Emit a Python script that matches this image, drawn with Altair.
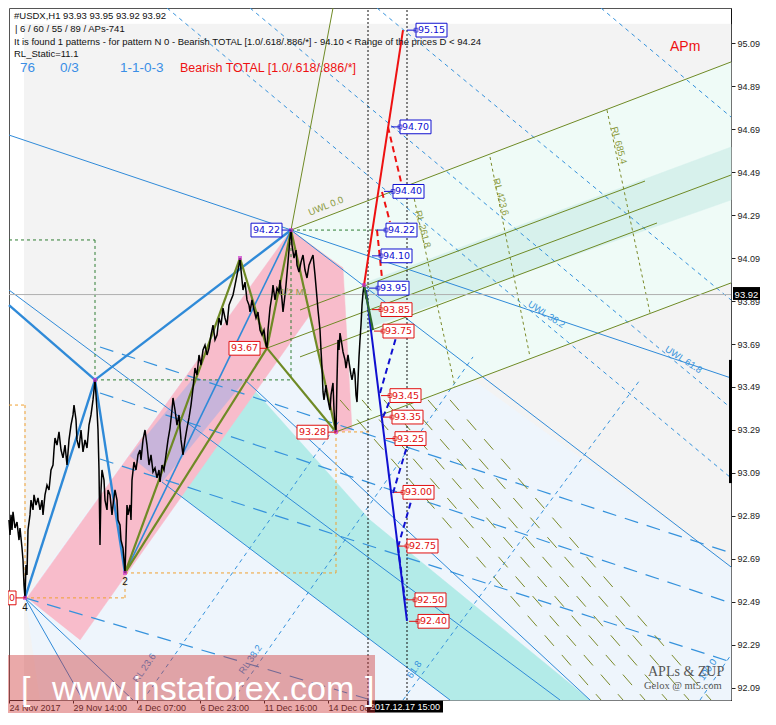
import altair as alt
import pandas as pd

FONT = "Liberation Sans"
BOXFONT = "DejaVu Sans"

X_DOMAIN = [0, 722]
Y_DOMAIN = [92.034, 95.253]

y_tick_values = [92.09, 92.29, 92.49, 92.69, 92.89, 93.09, 93.29, 93.49,
                 93.69, 93.89, 94.09, 94.29, 94.49, 94.69, 94.89, 95.09]
x_tick_values = [0, 64, 128, 191, 255, 319]
x_tick_labels = ["24 Nov 2017", "29 Nov 14:00", "4 Dec 07:00", "6 Dec 23:00",
                 "11 Dec 16:00", "14 Dec 08:00"]

# H1 price path (bar index, price)
price_bar = [0, 1, 2, 3, 4, 6, 8, 10, 11, 13, 14, 15, 16, 17, 18, 19, 21, 22, 24, 25,
             27, 29, 31, 33, 34, 36, 38, 40, 42, 44, 45, 46, 48, 50, 52, 54, 56, 58, 60, 62,
             64, 65, 67, 68, 70, 72, 74, 76, 78, 80, 82, 84, 86, 87, 88, 89, 90, 91, 92, 93,
             95, 96, 98, 99, 101, 103, 104, 106, 108, 109, 111, 112, 114, 115, 116, 117, 118, 119, 121, 122,
             123, 125, 127, 129, 131, 132, 134, 136, 138, 140, 142, 144, 146, 148, 150, 151, 153, 155, 157, 159,
             161, 163, 164, 166, 168, 170, 172, 174, 176, 178, 180, 182, 184, 186, 188, 190, 192, 194, 196, 198,
             200, 202, 204, 206, 208, 210, 212, 214, 216, 218, 220, 222, 224, 226, 228, 230, 231, 232, 234, 236,
             238, 240, 241, 243, 245, 247, 249, 251, 253, 255, 257, 258, 259, 261, 263, 264, 266, 268, 270, 271,
             273, 274, 276, 277, 279, 280, 281, 282, 283, 285, 287, 288, 290, 292, 294, 296, 298, 300, 302, 304,
             306, 308, 309, 311, 312, 313, 314, 315, 317, 318, 320, 321, 322, 324, 325, 326, 327, 328, 329, 330,
             331, 333, 334, 336, 337, 339, 340, 342, 343, 345, 346, 347, 348, 349, 350, 351, 352, 353, 354, 355,
             356, 357, 358]
price_val = [92.871, 92.802, 92.895, 92.825, 92.909, 92.834, 92.862, 92.778, 92.834, 92.741,
             92.685, 92.569, 92.509, 92.662, 92.616, 92.825, 92.895, 92.964, 92.918, 92.988,
             92.941, 92.974, 92.918, 92.964, 92.895, 92.988, 93.034, 93.011, 93.104, 93.127,
             93.197, 93.253, 93.220, 93.281, 93.197, 93.160, 93.220, 93.127, 93.244, 93.313,
             93.360, 93.406, 93.337, 93.244, 93.206, 93.290, 93.188, 93.244, 93.206, 93.313,
             93.360, 93.430, 93.523, 93.453, 93.383, 93.290, 93.104, 92.755, 93.011, 93.104,
             93.057, 92.964, 92.918, 93.011, 92.988, 92.895, 92.941, 93.011, 92.964, 92.871,
             92.848, 92.778, 92.741, 92.685, 92.625, 92.778, 92.941, 92.895, 92.941, 92.871,
             93.057, 93.141, 93.104, 93.174, 93.197, 93.151, 93.244, 93.290, 93.220, 93.127,
             93.174, 93.095, 93.113, 93.067, 93.104, 93.048, 93.127, 93.104, 93.174, 93.244,
             93.299, 93.383, 93.439, 93.383, 93.313, 93.360, 93.244, 93.174, 93.244, 93.299,
             93.346, 93.406, 93.485, 93.578, 93.546, 93.639, 93.592, 93.662, 93.685, 93.639,
             93.671, 93.732, 93.778, 93.709, 93.732, 93.811, 93.778, 93.857, 93.811, 93.778,
             93.871, 93.895, 93.918, 93.964, 94.011, 94.057, 94.090, 94.034, 93.941, 93.978,
             93.895, 93.871, 93.839, 93.895, 93.848, 93.811, 93.839, 93.755, 93.732, 93.755,
             93.685, 93.671, 93.755, 93.857, 93.918, 93.964, 93.895, 93.950, 93.932, 93.988,
             93.895, 93.839, 93.918, 93.964, 94.071, 94.127, 94.183, 94.220, 94.150, 94.090,
             94.127, 94.057, 94.025, 94.071, 94.104, 94.034, 93.997, 94.057, 94.081, 94.104,
             94.011, 93.904, 93.848, 93.755, 93.662, 93.578, 93.467, 93.430, 93.499, 93.453,
             93.406, 93.383, 93.453, 93.509, 93.383, 93.313, 93.281, 93.523, 93.709, 93.662,
             93.741, 93.685, 93.653, 93.616, 93.578, 93.639, 93.606, 93.546, 93.523, 93.578,
             93.546, 93.453, 93.420, 93.523, 93.630, 93.709, 93.778, 93.871, 93.927, 93.960,
             93.941, 93.904, 93.895]

# filled regions (bar, price vertices)
gray_bars, gray_vals = [15, 722, 722, 15], [95.178, 95.178, 92.034, 92.034]
paleblue_bars = [16, 282, 327, 464, 722, 722, 31]
paleblue_vals = [92.509, 94.22, 93.281, 93.523, 92.653, 92.034, 92.034]
mint_bars, mint_vals = [282, 722, 722, 327], [94.22, 95.002, 93.974, 93.281]
band_bars, band_vals = [353, 722, 722, 353], [93.969, 94.606, 94.36, 93.755]
teal_bars, teal_vals = [153, 236, 361, 581, 441], [93.048, 93.523, 92.871, 92.034, 92.034]
pinkA_bars, pinkA_vals = [18, 282, 334, 71], [92.509, 94.22, 94.043, 92.313]
pinkB_bars, pinkB_vals = [282, 334, 343, 327], [94.21, 94.043, 93.29, 93.281]
purple_bars, purple_vals = [121, 183, 236, 153], [93.169, 93.523, 93.523, 93.048]

# line segments (bar1, price1, bar2, price2)
blue_thin = [(0, 94.662, 722, 93.532), (282, 94.22, 722, 92.653), (16, 92.509, 74, 92.034),
             (16, 92.509, 124, 92.034), (0, 93.941, 551, 92.034), (236, 93.523, 581, 92.034),
             (153, 93.048, 441, 92.034)]
blue_thick = [(0, 93.871, 86, 93.523), (86, 93.523, 282, 94.22), (86, 93.523, 16, 92.509),
              (86, 93.523, 116, 92.625)]
blue_mid = [(116, 92.625, 282, 94.22)]
olive_thick = [(116, 92.625, 231, 94.09), (116, 92.625, 258, 93.671), (231, 94.09, 258, 93.671),
               (258, 93.671, 282, 94.22), (282, 94.22, 327, 93.281), (258, 93.671, 327, 93.281)]
olive_thin = [(282, 94.22, 324, 95.253), (282, 94.22, 722, 95.002), (327, 93.281, 722, 93.974),
              (258, 93.671, 722, 94.476), (291, 93.848, 636, 94.448), (291, 93.63, 648, 94.253)]
olive_rl = [(404, 94.392, 446, 93.49), (481, 94.56, 521, 93.63), (598, 94.778, 641, 93.834)]
olive_fan = [(331, 93.43, 592, 92.034), (353, 93.43, 614, 92.034), (375, 93.43, 636, 92.034),
             (397, 93.43, 658, 92.034), (419, 93.43, 680, 92.034), (441, 93.43, 702, 92.034)]
green_dash = [(0, 94.174, 86, 94.174), (86, 94.174, 86, 93.523), (86, 93.523, 282, 93.523),
              (282, 94.22, 282, 93.523), (282, 94.22, 371, 94.22)]
orange_dash = [(0, 93.406, 16, 93.406), (16, 93.406, 16, 92.509), (16, 92.509, 116, 92.509),
               (116, 92.509, 116, 92.625), (116, 92.625, 327, 92.625), (327, 92.625, 327, 93.281),
               (327, 93.281, 363, 93.281)]
blue_dash_upper = [(158, 95.253, 722, 93.067), (241, 95.253, 722, 93.392),
                   (368, 95.253, 722, 93.895), (592, 95.253, 722, 94.746)]
blue_longdash = [(91, 93.676, 722, 92.718), (91, 93.462, 722, 92.485), (91, 93.155, 722, 92.211),
                 (16, 92.509, 362, 92.034)]
blue_dash_asc = [(134, 92.034, 331, 93.337), (224, 92.034, 464, 93.63),
                 (394, 92.034, 631, 93.523), (691, 92.034, 722, 92.244)]
red_solid = [(355, 93.964, 394, 95.15)]
red_dash = [(379, 94.70, 394, 94.406), (373, 94.397, 381, 94.257), (368, 94.22, 373, 93.997)]
blue_proj_solid = [(357, 93.941, 398, 92.402)]
green_proj = [(355, 93.964, 364, 93.755)]
blue_proj_dash = [(371, 93.462, 387, 93.72), (374, 93.35, 384, 93.462), (384, 92.997, 399, 93.23),
                  (389, 92.746, 403, 92.974), (389, 92.746, 396, 92.499)]
dotted_v = [(359, 92.034, 359, 95.253), (398, 92.034, 398, 95.253)]
last_price = 93.92

# price labels
blue_lab_vals = [95.15, 94.70, 94.40, 94.22, 94.10, 93.95]
blue_lab_bars = [407, 391, 384, 377, 372, 369]
red_lab_vals = [93.85, 93.75, 93.45, 93.35, 93.25, 93.00, 92.75, 92.50, 92.40]
red_lab_bars = [372, 374, 381, 383, 386, 394, 398, 406, 409]
left_lab_vals = [94.22, 93.67, 93.28]
left_lab_bars = [242, 220, 288]
left_lab_colors = ["#1010d0", "#e01010", "#e01010"]
left_lab_targets = [282, 258, 327]

pivot_bar = [16, 116, 86, 231, 282, 327, 355]
pivot_val = [92.509, 92.625, 93.523, 94.09, 94.22, 93.281, 93.964]

XS = alt.Scale(domain=X_DOMAIN, nice=False, zero=False)
YS = alt.Scale(domain=Y_DOMAIN, nice=False, zero=False)
expr = " : ".join(f"datum.value == {v} ? '{t}'" for v, t in zip(x_tick_values, x_tick_labels)) + " : ''"
X_AX = alt.Axis(values=x_tick_values, labelExpr=expr, title=None, grid=False, orient="bottom",
                labelAlign="left", labelFont=FONT, labelFontSize=9, labelColor="#222",
                tickSize=3, tickColor="#222", domainColor="#222", labelPadding=0,
                labelFlush=False, labelOverlap=False)
Y_AX = alt.Axis(values=y_tick_values, format=".2f", orient="right", title=None, grid=False,
                labelFont=FONT, labelFontSize=9, labelColor="#222", tickSize=4,
                tickColor="#222", domainColor="#111", labelPadding=2, labelOverlap=False)


def X(f="x"):
    return alt.X(f"{f}:Q", scale=XS, axis=X_AX)


def Y(f="y"):
    return alt.Y(f"{f}:Q", scale=YS, axis=Y_AX)


def poly(bars, vals, color, op=1.0):
    df = pd.DataFrame({"x": bars, "y": vals, "o": list(range(len(bars)))})
    return alt.Chart(df).mark_line(fill=color, stroke=color, strokeWidth=0.5, fillOpacity=op,
                                   strokeOpacity=op).encode(x=X(), y=Y(), order="o:Q")


def segs(rows, color, width=1.0, dash=None, op=1.0):
    df = pd.DataFrame(rows, columns=["x", "y", "x2", "y2"])
    kw = dict(color=color, strokeWidth=width, opacity=op)
    if dash:
        kw["strokeDash"] = dash
    return alt.Chart(df).mark_rule(**kw).encode(x=X(), y=Y(), x2="x2:Q", y2="y2:Q")


def boxes(bars, vals, color, w=31):
    df = pd.DataFrame({"x": bars, "v": vals})
    df["x2"] = df["x"] + w
    df["y"] = df["v"] - 0.032
    df["y2"] = df["v"] + 0.032
    df["xc"] = df["x"] + w / 2
    df["t"] = df["v"].map(lambda v: f"{v:.2f}")
    df["cx"] = df["x"] - 9
    r = alt.Chart(df).mark_rect(fill="white", stroke=color, strokeWidth=1).encode(
        x=X(), x2="x2:Q", y=Y(), y2="y2:Q")
    t = alt.Chart(df).mark_text(color=color, font=BOXFONT, fontSize=9.5).encode(
        x=X("xc"), y=Y("v"), text="t:N")
    c = alt.Chart(df).mark_rule(color=color, strokeWidth=1).encode(x=X("cx"), x2="x:Q", y=Y("v"))
    m = alt.Chart(df).mark_square(size=14, filled=False, color=color, strokeWidth=1).encode(
        x=X("x"), y=Y("v"))
    return [c, r, t, m]


def ptext(txt, px, py, color="#111", size=9.5, font=FONT, **kw):
    return alt.Chart(pd.DataFrame({"a": [0]})).mark_text(
        text=txt, color=color, fontSize=size, font=font, align=kw.pop("align", "left"),
        baseline=kw.pop("baseline", "middle"), **kw).encode(x=alt.value(px), y=alt.value(py))


def prect(x1, x2, y1, y2, color, op=1.0):
    return alt.Chart(pd.DataFrame({"a": [0]})).mark_rect(color=color, opacity=op).encode(
        x=alt.value(x1), x2=alt.value(x2), y=alt.value(y1), y2=alt.value(y2))


layers = []
layers.append(poly(gray_bars, gray_vals, "#f3f3f3"))
layers.append(poly(paleblue_bars, paleblue_vals, "#eef5fc"))
layers.append(poly(mint_bars, mint_vals, "#effbf7"))
layers.append(poly(band_bars, band_vals, "#d7f1ec"))
layers.append(poly(teal_bars, teal_vals, "#b3ebe8"))
layers.append(poly(pinkA_bars, pinkA_vals, "#f8bccb"))
layers.append(poly(pinkB_bars, pinkB_vals, "#f8bccb"))
layers.append(poly(purple_bars, purple_vals, "#c8b4da"))

layers.append(segs(blue_dash_upper, "#3592dc", 1, [4, 4]))
layers.append(segs(blue_longdash, "#3592dc", 1.2, [14, 9]))
layers.append(segs(blue_dash_asc, "#3592dc", 1, [4, 4]))
layers.append(segs(olive_fan, "#7b8a2a", 1, [14, 12]))
layers.append(segs(blue_thin, "#2f8ad8", 1))
layers.append(segs(olive_rl, "#7b8a2a", 1, [3, 3]))
layers.append(segs(olive_thin, "#6f8a25", 1))
layers.append(segs(green_dash, "#2e7d32", 1, [3, 3]))
layers.append(segs(orange_dash, "#f0a030", 1, [3, 3]))
layers.append(segs(dotted_v, "#111111", 1, [2, 2]))
layers.append(segs([(0, last_price, 722, last_price)], "#b0b0b0", 1))
layers.append(segs(blue_mid, "#2f8ad8", 1.6))
layers.append(segs(blue_thick, "#2f8ad8", 2.4))
layers.append(segs(olive_thick, "#6f8a25", 2.2))

pdf = pd.DataFrame({"x": price_bar, "y": price_val})
layers.append(alt.Chart(pdf).mark_line(color="#000000", strokeWidth=1.5).encode(x=X(), y=Y()))

layers.append(segs(red_solid, "#ee1111", 2))
layers.append(segs(red_dash, "#ee1111", 2, [6, 4]))
layers.append(segs(blue_proj_solid, "#1010d0", 2))
layers.append(segs(blue_proj_dash, "#1010d0", 2, [6, 4]))
layers.append(segs(green_proj, "#2d6a2d", 2.2))

pv = pd.DataFrame({"x": pivot_bar, "y": pivot_val})
layers.append(alt.Chart(pv).mark_square(size=16, color="#cc33cc").encode(x=X(), y=Y()))

layers += boxes(blue_lab_bars, blue_lab_vals, "#1010d0")
layers += boxes(red_lab_bars, red_lab_vals, "#e01010")

ldf = pd.DataFrame({"x": left_lab_bars, "v": left_lab_vals, "c": left_lab_colors,
                    "tx": left_lab_targets})
ldf["x2"] = ldf["x"] + 31
ldf["y"] = ldf["v"] - 0.032
ldf["y2"] = ldf["v"] + 0.032
ldf["xc"] = ldf["x"] + 15.5
ldf["t"] = ldf["v"].map(lambda v: f"{v:.2f}")
layers.append(alt.Chart(ldf).mark_rule(strokeWidth=1).encode(
    x=X("x2"), x2="tx:Q", y=Y("v"), color=alt.Color("c:N", scale=None)))
layers.append(alt.Chart(ldf).mark_rect(fill="white", strokeWidth=1).encode(
    x=X(), x2="x2:Q", y=Y(), y2="y2:Q", stroke=alt.Stroke("c:N", scale=None)))
layers.append(alt.Chart(ldf).mark_text(font=BOXFONT, fontSize=9.5).encode(
    x=X("xc"), y=Y("v"), text="t:N", color=alt.Color("c:N", scale=None)))

zdf = pd.DataFrame({"x": [-1], "x2": [7], "y": [92.477], "y2": [92.541], "v": [92.509],
                    "xc": [3], "t": ["0"]})
layers.append(alt.Chart(zdf).mark_rule(color="#e01010").encode(x=X("x2"), x2=alt.value(16 * 1.0), y=Y("v")))
layers.append(alt.Chart(zdf).mark_rect(fill="white", stroke="#e01010").encode(
    x=X(), x2="x2:Q", y=Y(), y2="y2:Q"))
layers.append(alt.Chart(zdf).mark_text(color="#e01010", font=BOXFONT, fontSize=9.5).encode(
    x=X("xc"), y=Y("v"), text="t:N"))
ndf = pd.DataFrame({"x": [16, 116], "y": [92.462, 92.583], "t": ["4", "2"]})
layers.append(alt.Chart(ndf).mark_text(color="#111", font=FONT, fontSize=10).encode(
    x=X(), y=Y(), text="t:N"))

rl_text = ["UWL 0.0", "RL 261.8", "RL 423.6", "RL 685.4", "1/2 ML"]
rl_bar = [300, 409, 487, 605, 271]
rl_val = [94.30, 94.31, 94.46, 94.70, 93.93]
rl_ang = [338, 75, 75, 75, 0]
odf = pd.DataFrame({"x": rl_bar, "y": rl_val, "t": rl_text, "a": rl_ang})
for _, r in odf.iterrows():
    layers.append(alt.Chart(odf[odf.t == r.t]).mark_text(
        color="#8a9a40", font=FONT, fontSize=9.5, angle=int(r.a), align="left").encode(
        x=X(), y=Y(), text="t:N"))
ul_text = ["UWL 38.2", "UWL 61.8", "RL 23.6", "RL 38.2", "61.8", "100.0"]
ul_bar = [520, 657, 126, 232, 400, 692]
ul_val = [93.88, 93.67, 92.12, 92.16, 92.14, 92.13]
ul_ang = [33, 33, 305, 305, 305, 305]
udf = pd.DataFrame({"x": ul_bar, "y": ul_val, "t": ul_text, "a": ul_ang})
for _, r in udf.iterrows():
    layers.append(alt.Chart(udf[udf.t == r.t]).mark_text(
        color="#3592dc", font=FONT, fontSize=9.5, angle=int(r.a), align="left").encode(
        x=X(), y=Y(), text="t:N"))

layers.append(alt.Chart(pd.DataFrame({"x": [720], "x2": [723], "y": [93.043], "y2": [93.616]}))
              .mark_rect(color="#000").encode(x=X(), x2="x2:Q", y=Y(), y2="y2:Q"))
cp = pd.DataFrame({"x": [724], "x2": [751], "y": [93.895], "y2": [93.955], "v": [last_price],
                   "xc": [737.5], "t": [f"{last_price:.2f}"]})
layers.append(alt.Chart(cp).mark_rect(color="#000").encode(x=X(), x2="x2:Q", y=Y(), y2="y2:Q"))
layers.append(alt.Chart(cp).mark_text(color="white", font=FONT, fontSize=9.5).encode(
    x=X("xc"), y=Y("v"), text="t:N"))
dt = pd.DataFrame({"x": [358], "x2": [434], "y": [91.976], "y2": [92.030], "v": [92.003],
                   "xc": [396], "t": ["2017.12.17 15:00"]})
layers.append(alt.Chart(dt).mark_rect(color="#000").encode(x=X(), x2="x2:Q", y=Y(), y2="y2:Q"))
layers.append(alt.Chart(dt).mark_text(color="white", font=FONT, fontSize=9).encode(
    x=X("xc"), y=Y("v"), text="t:N"))

layers.append(ptext("#USDX,H1  93.93 93.95 93.92 93.92", 5, 8))
layers.append(ptext(" | 6 / 60 / 55 / 89 / APs-741", 6, 21))
layers.append(ptext("It is found 1 patterns  -  for pattern N 0 - Bearish TOTAL [1.0/.618/.886/*] - 94.10 < Range of the prices D < 94.24", 5, 34))
layers.append(ptext("RL_Static=11.1", 5, 46))
layers.append(ptext("76", 11, 60, "#3a8ee6", 13.5))
layers.append(ptext("0/3", 51, 60, "#3a8ee6", 13.5))
layers.append(ptext("1-1-0-3", 111, 60, "#3a8ee6", 13.5))
layers.append(ptext("Bearish TOTAL [1.0/.618/.886/*]", 171, 60, "#ee1111", 12.5))
layers.append(ptext("APm", 661, 39, "#ee1111", 14))
layers.append(ptext("APLs & ZUP", 639, 664, "#555555", 14, "Liberation Serif"))
layers.append(ptext("Gelox @ mt5.com", 635, 678, "#555555", 10.5, "Liberation Serif"))

layers.append(prect(-1, 366, 647, 705, "#cc3333", 0.42))
layers.append(ptext("[", 12, 692, "white", 34, baseline="alphabetic"))
layers.append(ptext("www.instaforex.com", 43, 692, "white", 34, baseline="alphabetic"))
layers.append(ptext("]", 356, 692, "white", 34, baseline="alphabetic"))

chart = alt.layer(*layers).properties(
    width=722, height=692,
    autosize=alt.AutoSizeParams(type="none"),
    padding={"left": 1, "top": 0, "right": 37, "bottom": 13},
    background="white",
).configure_view(stroke="#555555", strokeWidth=1)

chart.save("out.html", embed_options={"renderer": "svg", "actions": False})
